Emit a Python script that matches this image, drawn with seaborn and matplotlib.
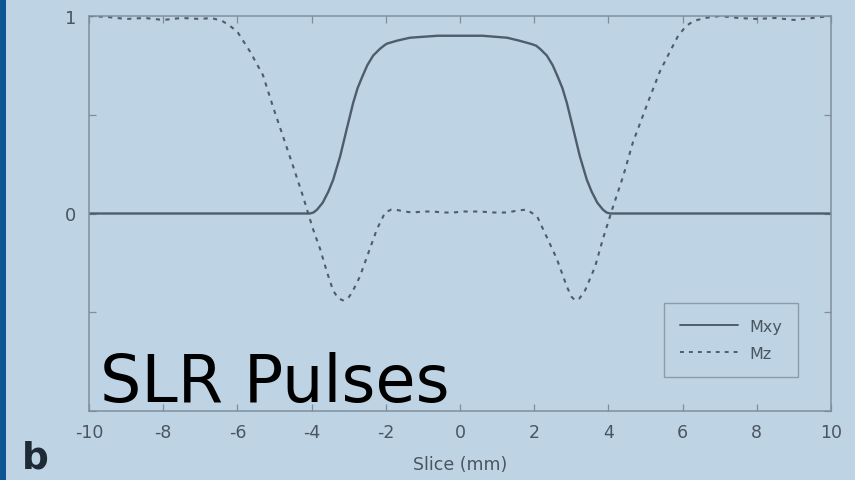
import matplotlib
matplotlib.use("Agg")
import matplotlib.pyplot as plt
import seaborn as sns
import pandas as pd

# Slice profile of an SLR excitation pulse
mxy_slice = [-10, -4.05, -3.95, -3.85, -3.7, -3.55, -3.42, -3.23, -3.05, -2.88, -2.76,
             -2.64, -2.5, -2.34, -2.15, -2.05, -1.97, -1.7, -1.35, -0.6, 0, 0.6, 1.27,
             1.6, 1.89, 2.05, 2.15, 2.34, 2.5, 2.64, 2.76, 2.88, 3.05, 3.23, 3.42, 3.55,
             3.7, 3.85, 3.95, 4.05, 10]
mxy_value = [0, 0, 0.005, 0.02, 0.055, 0.11, 0.17, 0.29, 0.43, 0.56, 0.635,
             0.69, 0.75, 0.80, 0.835, 0.85, 0.86, 0.875, 0.89, 0.90, 0.90, 0.90, 0.89,
             0.875, 0.86, 0.85, 0.835, 0.80, 0.75, 0.69, 0.635, 0.56, 0.43, 0.29, 0.17, 0.11,
             0.055, 0.02, 0.005, 0, 0]

mz_slice = [-10, -9.5, -9, -8.5, -8, -7.5, -7, -6.7, -6.41, -6.2, -6.0, -5.66, -5.31,
            -5.04, -4.77, -4.5, -4.23, -4.1, -3.96, -3.77, -3.58, -3.42, -3.28, -3.15,
            -3.02, -2.91, -2.7, -2.47, -2.24, -2.02, -1.85, -1.75, -1.5, -1.27, -1.0,
            -0.73, -0.45, -0.19, 0.1, 0.54, 0.9, 1.27, 1.55, 1.8, 2.08, 2.34, 2.61,
            2.88, 3.0, 3.1, 3.22, 3.37, 3.64, 3.85, 4.0, 4.1, 4.4, 4.66, 4.9, 5.12,
            5.39, 5.66, 5.88, 6.1, 6.3, 6.6, 7, 7.5, 8, 8.5, 9, 9.5, 10]
mz_value = [1.0, 0.995, 0.985, 0.99, 0.98, 0.99, 0.985, 0.99, 0.975, 0.95, 0.92, 0.82, 0.70,
            0.54, 0.39, 0.24, 0.086, 0.005, -0.08, -0.18, -0.30, -0.39, -0.43, -0.44,
            -0.43, -0.40, -0.32, -0.20, -0.08, 0.005, 0.02, 0.02, 0.01, 0.005, 0.01,
            0.01, 0.005, 0.005, 0.01, 0.01, 0.005, 0.005, 0.015, 0.02, -0.015, -0.12, -0.23,
            -0.37, -0.42, -0.44, -0.43, -0.39, -0.27, -0.13, -0.04, 0.02, 0.19, 0.36, 0.48, 0.59,
            0.72, 0.82, 0.90, 0.95, 0.975, 0.99, 1.0, 0.99, 0.985, 0.99, 0.98, 0.99, 1.0]

component_names = ["Mxy", "Mz"]
x_ticks = [-10, -8, -6, -4, -2, 0, 2, 4, 6, 8, 10]
y_ticks = [-1, -0.5, 0, 0.5, 1]
y_tick_labels = ["", "", "0", "", "1"]

profile = pd.concat([
    pd.DataFrame({"Slice": mxy_slice, "M": mxy_value, "Component": component_names[0]}),
    pd.DataFrame({"Slice": mz_slice, "M": mz_value, "Component": component_names[1]}),
], ignore_index=True)

bg = "#bed3e3"
ink = "#4e5d6d"
spine_c = "#7f8e9c"
label_c = "#4a5562"

sns.set_theme(style="white")
plt.rcParams["font.family"] = ["DejaVu Sans"]
plt.rcParams["axes.unicode_minus"] = False

fig = plt.figure(figsize=(8.55, 4.81), dpi=100, facecolor=bg)
ax = fig.add_axes([89 / 855, 1 - 412 / 481, (831 - 89) / 855, (412 - 17) / 481])
ax.set_facecolor(bg)

sns.lineplot(data=profile, x="Slice", y="M", style="Component",
             dashes={"Mxy": "", "Mz": (2.0, 2.6)}, color=ink,
             estimator=None, sort=False, linewidth=1.7, ax=ax, legend=True)

# Mz drawn a little thinner than Mxy
lines = ax.get_lines()
if len(lines) >= 2:
    lines[1].set_linewidth(1.5)

ax.set_xlim(-10, 10)
ax.set_ylim(-1, 1)
ax.set_xticks(x_ticks)
ax.set_xticklabels([str(t) for t in x_ticks])
ax.set_yticks(y_ticks)
ax.set_yticklabels(y_tick_labels)
ax.tick_params(axis="both", which="both", direction="in", length=5, width=0.9,
               color=spine_c, labelcolor=label_c, labelsize=12.5, pad=9,
               top=True, right=True, bottom=True, left=True)
ax.tick_params(axis="y", labelsize=13)
for s in ax.spines.values():
    s.set_visible(True)
    s.set_color(spine_c)
    s.set_linewidth(1.1)

ax.set_xlabel("Slice (mm)", fontsize=12.5, color=label_c, labelpad=10)
ax.set_ylabel("")

handles, labels = ax.get_legend_handles_labels()
pairs = [(h, l) for h, l in zip(handles, labels) if l in component_names]
leg = ax.legend([p[0] for p in pairs], [p[1] for p in pairs],
                loc="lower right", bbox_to_anchor=(0.9555, 0.086),
                borderaxespad=0, frameon=True, fancybox=False,
                facecolor=bg, edgecolor=spine_c, fontsize=11.5,
                handlelength=3.6, handletextpad=0.7, borderpad=1.0,
                labelspacing=0.75)
leg.get_frame().set_linewidth(1.0)
for t in leg.get_texts():
    t.set_color(label_c)
for h in leg.get_lines():
    h.set_color(ink)
    h.set_linewidth(1.4)

# Left accent bar
fig.patches.append(plt.Rectangle((0, 0), 6 / 855, 1, transform=fig.transFigure,
                                 facecolor="#0e5596", edgecolor="none", zorder=0))

fig.text(22 / 855, 1 - 469 / 481, "b", fontsize=27, fontweight="bold",
         color="#1e2a36", va="baseline", ha="left")
fig.text(100 / 855, 1 - 402 / 481, "SLR Pulses", fontsize=47, color="black",
         va="baseline", ha="left", zorder=10)

fig.savefig("out.png", dpi=100, facecolor=bg)
